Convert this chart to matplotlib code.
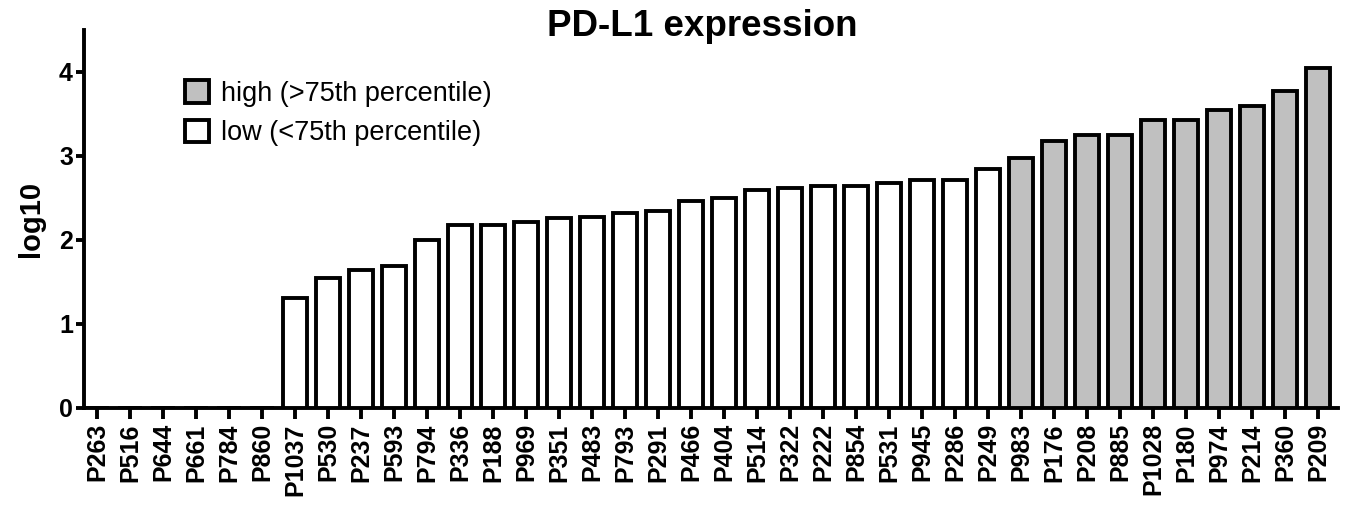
import numpy as np
import matplotlib.pyplot as plt
from matplotlib.patches import Patch

plt.rcParams['font.family'] = ['Liberation Sans', 'DejaVu Sans']

patients = ['P263', 'P516', 'P644', 'P661', 'P784', 'P860', 'P1037', 'P530', 'P237',
            'P593', 'P794', 'P336', 'P188', 'P969', 'P351', 'P483', 'P793', 'P291',
            'P466', 'P404', 'P514', 'P322', 'P222', 'P854', 'P531', 'P945', 'P286',
            'P249', 'P983', 'P176', 'P208', 'P885', 'P1028', 'P180', 'P974', 'P214',
            'P360', 'P209']
log10_expr = [0, 0, 0, 0, 0, 0, 1.31, 1.55, 1.64,
              1.69, 2.00, 2.18, 2.18, 2.21, 2.26, 2.27, 2.32, 2.35,
              2.46, 2.50, 2.60, 2.62, 2.64, 2.64, 2.68, 2.71, 2.71,
              2.84, 2.97, 3.18, 3.25, 3.25, 3.43, 3.43, 3.55, 3.59,
              3.77, 4.05]
# top 25% flagged as high
is_high = [False] * 28 + [True] * 10

fig = plt.figure(figsize=(13.47, 5.08), dpi=100)
ax = fig.add_axes([0.0624, 0.197, 0.931, 0.744])

x = np.arange(len(patients))
colors = ['#C0C0C0' if h else 'white' for h in is_high]
ax.bar(x, log10_expr, width=0.72, color=colors, edgecolor='black', linewidth=2.8, zorder=3)

ax.set_xlim(-0.4, len(patients) - 0.4)
ax.set_ylim(0, 4.5)
ax.set_yticks([0, 1, 2, 3, 4])
ax.set_xticks(x)
ax.set_xticklabels(patients, rotation=90, fontsize=18, fontweight='bold')
for lab in ax.get_yticklabels():
    lab.set_fontsize(18)
    lab.set_fontweight('bold')

for s in ['top', 'right']:
    ax.spines[s].set_visible(False)
for s in ['left', 'bottom']:
    ax.spines[s].set_linewidth(2.8)
ax.tick_params(axis='x', length=8, width=2.8, pad=3)
ax.tick_params(axis='y', length=6, width=2.8, pad=2)

ax.set_ylabel('log10', fontsize=21, fontweight='bold', labelpad=10)
fig.text(0.521, 1 - 27 / 508, 'PD-L1 expression', fontsize=26.5, fontweight='bold',
         ha='center', va='center')

handles = [Patch(facecolor='#C0C0C0', edgecolor='black', linewidth=2.8),
           Patch(facecolor='white', edgecolor='black', linewidth=2.8)]
ax.legend(handles, ['high (>75th percentile)', 'low (<75th percentile)'],
          loc='upper left', bbox_to_anchor=(0.061, 0.932), frameon=False,
          fontsize=19.5, handlelength=0.9, handleheight=0.9, handletextpad=0.45,
          labelspacing=0.48)

fig.savefig('out.png', dpi=100)
